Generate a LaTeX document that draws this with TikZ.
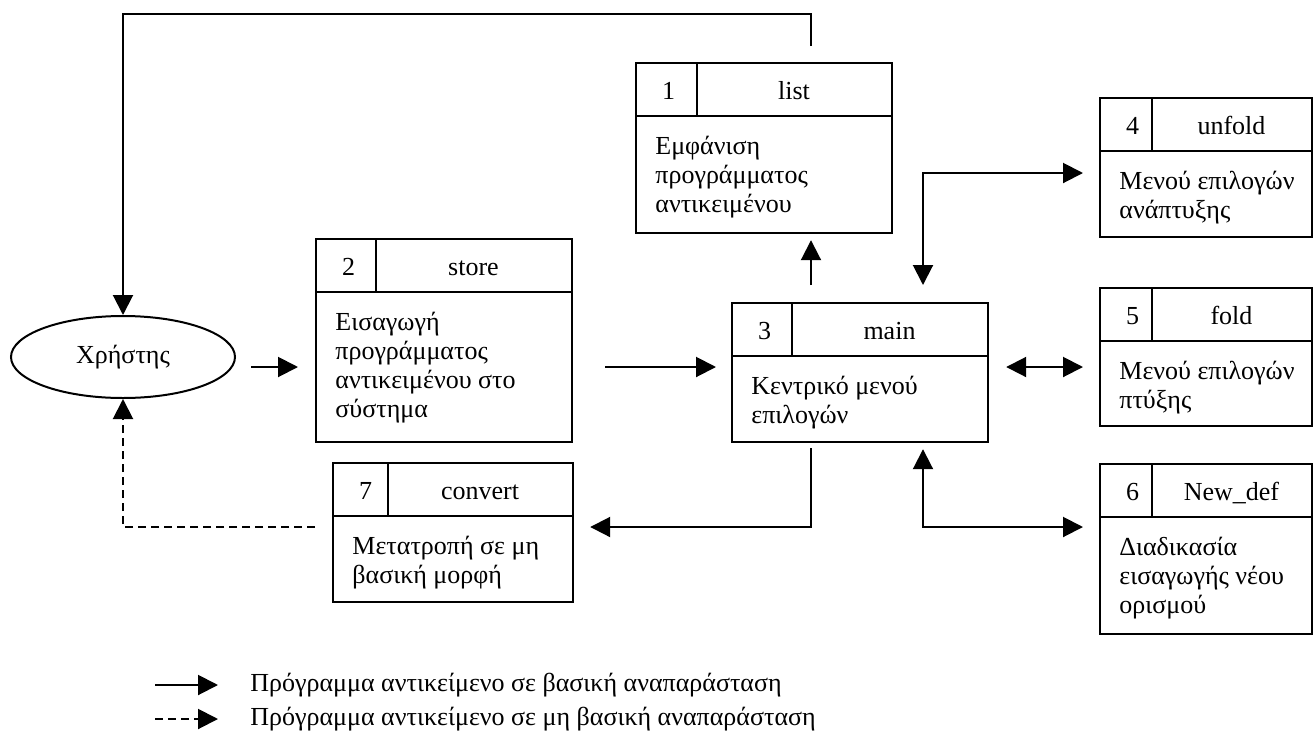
\documentclass[tikz,border=0pt]{standalone}
\usepackage{fontspec}
\setmainfont{Liberation Serif}
\usetikzlibrary{arrows.meta, shapes.geometric}

% box with number / name header and a text body
\newcommand{\procbox}[9]{%
  \node[box, minimum width={#4*0.5pt}, minimum height={#5*0.5pt}] (#1) at (#2,#3) {};
  \draw[boxline] ([yshift=-27pt]#1.north west) -- ([yshift=-27pt]#1.north east);
  \draw[boxline] ([xshift={#6*0.5pt}]#1.north west) -- ++(0,54);
  \node[anchor=base west] (#1-num) at ([xshift=10pt,yshift=-18.5pt]#1.north west) {#7};
  \node[anchor=base] (#1-name) at ([xshift={(#4+#6)*0.25pt},yshift=-18.5pt]#1.north west) {#8};
  \node[body] (#1-txt) at ([xshift=10pt,yshift=-35.9pt]#1.north west) {\strut#9};
}

\begin{document}
\begin{tikzpicture}[x=0.5pt, y=-0.5pt,
  font=\fontsize{13}{14.5}\selectfont,
  box/.style={draw, line width=1.1pt, anchor=north west, inner sep=0pt},
  boxline/.style={line width=1.1pt},
  body/.style={anchor=north west, align=left, inner sep=0pt},
  user/.style={draw, ellipse, line width=1pt, minimum width=112pt, minimum height=41pt, inner sep=0pt},
  arr/.style={line width=1pt, -{Triangle[length=10pt,width=10pt]}},
  dbl/.style={line width=1pt, {Triangle[length=10pt,width=10pt]}-{Triangle[length=10pt,width=10pt]}},
  dsh/.style={dash pattern=on 4pt off 2.5pt}]
\useasboundingbox (0,0) rectangle (1313,740);

\node[user] (user) at (123,357) {Χρήστης};

\procbox{list}{635}{62}{256}{170}{62}{1}{list}{Εμφάνιση\\προγράμματος\\αντικειμένου}
\procbox{store}{315}{238}{256}{203}{61}{2}{store}{Εισαγωγή\\προγράμματος\\αντικειμένου στο\\σύστημα}
\procbox{main}{731}{302}{256}{139}{61}{3}{main}{Κεντρικό μενού\\επιλογών}
\procbox{unfold}{1099}{97}{212}{139}{53}{4}{unfold}{Μενού επιλογών\\ανάπτυξης}
\procbox{fold}{1099}{287}{212}{138}{53}{5}{fold}{Μενού επιλογών\\πτύξης}
\procbox{newdef}{1099}{463}{212}{170}{53}{6}{New\_def}{Διαδικασία\\εισαγωγής νέου\\ορισμού}
\procbox{convert}{332}{462}{240}{139}{56}{7}{convert}{Μετατροπή σε μη\\βασική μορφή}

% rows and columns of the connectors
\coordinate (top) at (0,14);
\coordinate (row) at (0,367);
\coordinate (rowU) at (0,173);
\coordinate (rowL) at (0,527);
\coordinate (colA) at (811,0);
\coordinate (colB) at (923,0);

\draw[arr, shorten <=7.5pt, shorten >=8.5pt] (user.east |- row) -- (store.west |- row);
\draw[arr, shorten <=16pt, shorten >=7.5pt] (store.east |- row) -- (main.west |- row);
\draw[dbl, shorten <=8.5pt, shorten >=8pt] (main.east |- row) -- (fold.west |- row);
\draw[arr, shorten <=8.5pt, shorten >=3pt] (main.north -| colA) -- (list.south -| colA);
\draw[arr, shorten <=8pt] (list.north -| colA) -- (colA |- top) -| (user.north);
\draw[dbl, shorten <=8.5pt, shorten >=8pt] (main.north -| colB) |- (unfold.west |- rowU);
\draw[dbl, shorten <=3pt, shorten >=8pt] (main.south -| colB) |- (newdef.west |- rowL);
\draw[arr, shorten <=2.5pt, shorten >=8pt] (main.south -| colA) |- (convert.east |- rowL);
\draw[arr, dsh, shorten <=8.5pt] (convert.west |- rowL) -| (user.south);

% legend
\coordinate (solidA) at (155,685);
\coordinate (solidB) at (218,685);
\coordinate (dashA) at (155,719);
\coordinate (dashB) at (218,719);
\draw[arr] (solidA) -- (solidB);
\draw[arr, dsh] (dashA) -- (dashB);
\node[anchor=west, inner sep=0pt] (solidtxt) at (250,685) {Πρόγραμμα αντικείμενο σε βασική αναπαράσταση};
\node[anchor=west, inner sep=0pt] (dashtxt) at (250,719) {Πρόγραμμα αντικείμενο σε μη βασική αναπαράσταση};
\end{tikzpicture}
\end{document}
